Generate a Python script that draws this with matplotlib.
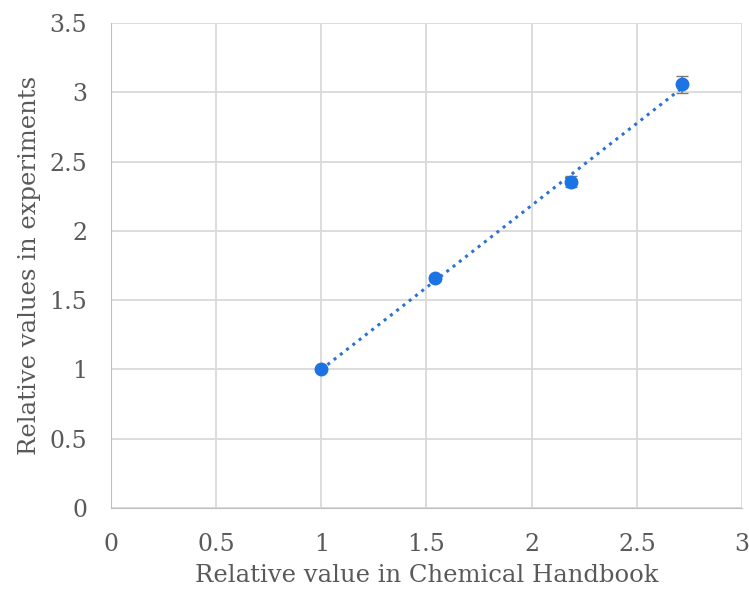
import numpy as np
import matplotlib.pyplot as plt

#-------------- data --------------
x_vals = [1.0, 1.54, 2.187, 2.714]
y_vals = [1.0, 1.66, 2.355, 3.058]
y_err = [0.01, 0.02, 0.04, 0.06]
#----------------------------------

plt.rcParams['font.family'] = ['DejaVu Serif']

fig = plt.figure(figsize=(7.49, 5.91), dpi=100)
ax = fig.add_axes([0.148, 0.1404, 0.8427, 0.8207])

# trend line (linear fit)
a, b = np.polyfit(x_vals, y_vals, 1)
xt = np.array([min(x_vals), max(x_vals)])
ax.plot(xt, a*xt + b, linestyle=(0, (1, 1.6)), color='#2a72d4', linewidth=2.2, zorder=3)

ax.errorbar(x_vals, y_vals, yerr=y_err, fmt='o', color='#1c74e4', ecolor='#7a7a7a',
            markersize=9, elinewidth=1.2, capsize=4, zorder=4)

ax.set_xlim(0, 3)
ax.set_ylim(0, 3.5)
ax.set_xticks([0, 0.5, 1, 1.5, 2, 2.5, 3])
ax.set_xticklabels(['0', '0.5', '1', '1.5', '2', '2.5', '3'])
ax.set_yticks([0, 0.5, 1, 1.5, 2, 2.5, 3, 3.5])
ax.set_yticklabels(['0', '0.5', '1', '1.5', '2', '2.5', '3', '3.5'])

ax.grid(True, color='#d9d9d9', linewidth=1.3)
ax.set_axisbelow(True)
for s in ax.spines.values():
    s.set_visible(False)
ax.spines['left'].set_visible(True)
ax.spines['bottom'].set_visible(True)
ax.spines['left'].set_color('#bfbfbf')
ax.spines['bottom'].set_color('#bfbfbf')
ax.tick_params(length=0, labelsize=17, colors='#595959')
ax.tick_params(axis='x', pad=18)
ax.tick_params(axis='y', pad=17)

ax.set_xlabel('Relative value in Chemical Handbook', fontsize=17.5, color='#595959', labelpad=6)
ax.set_ylabel('Relative values in experiments', fontsize=17.5, color='#595959', labelpad=6)

plt.savefig('out.png', dpi=100)
